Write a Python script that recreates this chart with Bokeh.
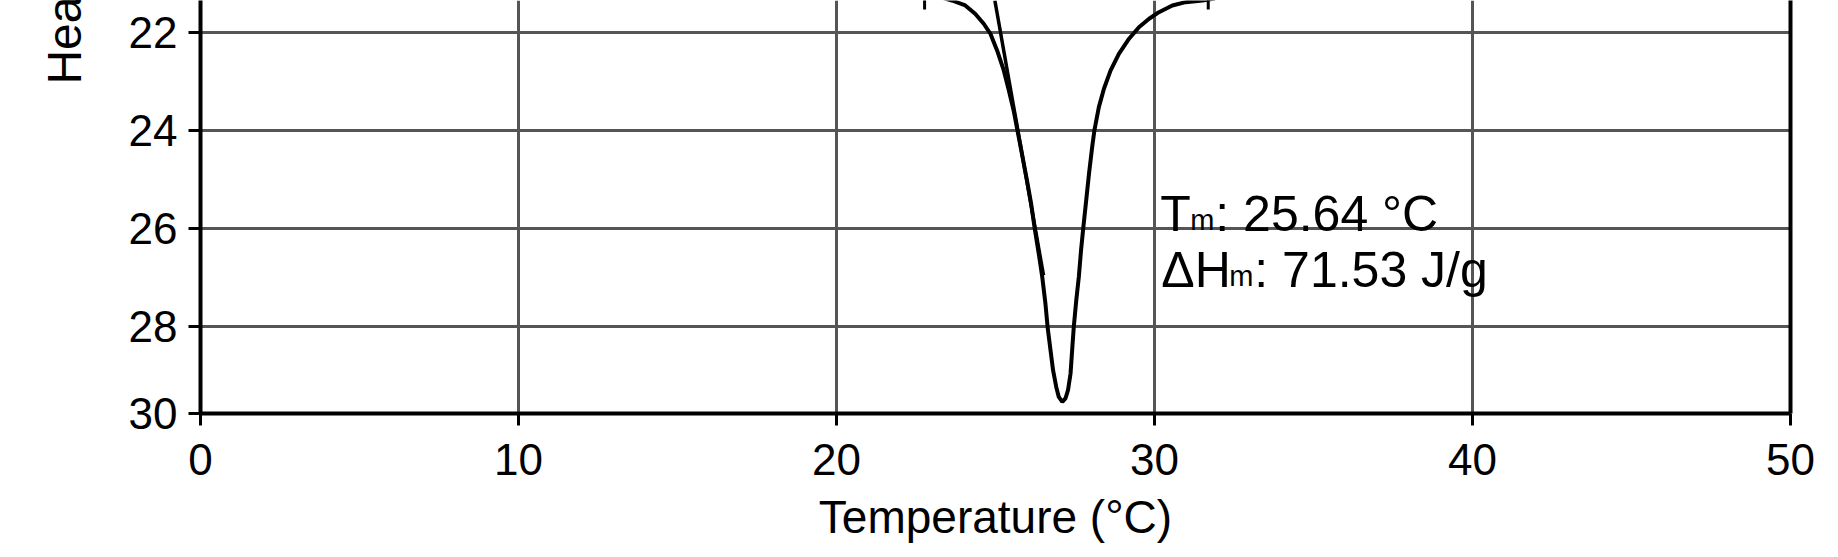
import math
from bokeh.plotting import figure
from bokeh.models import Range1d, FixedTicker, LinearAxis, Label
from bokeh.embed import file_html
from bokeh.resources import INLINE

# ---- data ----
temp = [23.20, 23.63, 24.05, 24.36, 24.63, 24.84, 25.05, 25.26, 25.42, 25.57,
        25.69, 25.83, 25.99, 26.12, 26.23, 26.36, 26.47, 26.57, 26.64, 26.73,
        26.81, 26.91, 26.99, 27.10, 27.20, 27.28, 27.36, 27.41, 27.46, 27.54,
        27.62, 27.69, 27.76, 27.83, 27.94, 28.04, 28.11, 28.25, 28.41, 28.62,
        28.88, 29.20, 29.51, 29.83, 30.14, 30.56, 30.98, 31.51, 31.90]
heat = [21.26, 21.341, 21.443, 21.612, 21.816, 22.020, 22.361, 22.769, 23.178, 23.586,
        23.994, 24.469, 25.014, 25.490, 25.988, 26.510, 26.988, 27.531, 28.020, 28.484,
        28.892, 29.233, 29.437, 29.539, 29.469, 29.300, 28.959, 28.484, 28.020, 27.463,
        26.988, 26.443, 25.988, 25.559, 24.878, 24.335, 23.994, 23.518, 23.143, 22.769,
        22.429, 22.122, 21.886, 21.714, 21.580, 21.443, 21.375, 21.341, 21.30]

tangent_temp = [24.98, 26.51]
tangent_heat = [21.341, 26.953]

limit_temp = [22.77, 31.69]
limit_top = [21.30, 21.30]
limit_bottom = [21.525, 21.525]

x_ticks = [0, 10, 20, 30, 40, 50]
x_grid = [10, 20, 30, 40]
y_ticks = [22, 24, 26, 28]
y_bottom = 29.776          # position of the bottom axis line, labelled "30"
y_top = 21.341
y_tick_labels = {22: "22", 24: "24", 26: "26", 28: "28", 29.776: "30"}

tm_value = "25.64 °C"
dh_value = "71.53 J/g"
x_title = "Temperature (°C)"
y_title = "Hea"

FONT = "Liberation Sans"

p = figure(width=1838, height=557,
           x_range=Range1d(0, 50), y_range=Range1d(y_bottom, y_top),
           output_backend="svg", toolbar_location=None,
           title=y_title, title_location="left",
           min_border_left=200, min_border_right=48,
           min_border_top=0, min_border_bottom=144)
p.outline_line_color = None
p.background_fill_color = "white"
p.border_fill_color = "white"

# y axis title (only its start is visible in the reference, top-aligned)
p.title.align = "right"
p.title.text_font = FONT
p.title.text_font_size = "48px"
p.title.text_font_style = "normal"
p.title.text_color = "black"
p.title.standoff = 69
p.title.offset = -4

# grids
p.xgrid.ticker = FixedTicker(ticks=x_grid)
p.ygrid.ticker = FixedTicker(ticks=y_ticks)
for g in (p.xgrid, p.ygrid):
    g.grid_line_color = "#555555"
    g.grid_line_width = 3

# x axis
xa = p.xaxis[0]
xa.ticker = FixedTicker(ticks=x_ticks)
xa.axis_label = x_title
# y axis
ya = p.yaxis[0]
ya.ticker = FixedTicker(ticks=y_ticks + [y_bottom])
ya.major_label_overrides = y_tick_labels

for ax in (xa, ya):
    ax.axis_line_color = "black"
    ax.axis_line_width = 4
    ax.major_tick_line_color = "black"
    ax.major_tick_line_width = 3
    ax.major_tick_out = 12
    ax.major_tick_in = 0
    ax.minor_tick_line_color = None
    ax.major_label_text_font = FONT
    ax.major_label_text_font_size = "44px"
    ax.major_label_text_color = "black"
    ax.axis_label_text_font = FONT
    ax.axis_label_text_font_size = "46px"
    ax.axis_label_text_font_style = "normal"
    ax.axis_label_text_color = "black"
xa.major_label_standoff = 18
xa.axis_label_standoff = 13
ya.major_label_standoff = 11

# right border
ra = LinearAxis(ticker=FixedTicker(ticks=[]), axis_line_width=4,
                axis_line_color="black", major_label_text_font_size="0px",
                minor_tick_line_color=None, major_tick_line_color=None)
p.add_layout(ra, "right")

# curve, tangent, limit marks
p.line(temp, heat, line_color="black", line_width=4)
p.line(tangent_temp, tangent_heat, line_color="black", line_width=3.5)
p.segment(x0=limit_temp, y0=limit_top, x1=limit_temp, y1=limit_bottom,
          line_color="black", line_width=3)

# annotation
ann_x = 30.12
line1_y = 25.708
line2_y = 26.851


def piece(y, dx, text, size, dy=0):
    p.add_layout(Label(x=ann_x, y=y, x_offset=dx, y_offset=dy, text=text,
                       text_align="left", text_baseline="alphabetic",
                       text_font=FONT, text_font_size=size, text_color="black"))


piece(line1_y, 2, "T", "50px")
piece(line1_y, 32, "m", "29px", -6)
piece(line1_y, 57, ": " + tm_value, "50px")
piece(line2_y, 3, "ΔH", "50px")
piece(line2_y, 71, "m", "29px", -6)
piece(line2_y, 96, ": " + dh_value, "50px")

open("out.html", "w").write(file_html(p, INLINE))
